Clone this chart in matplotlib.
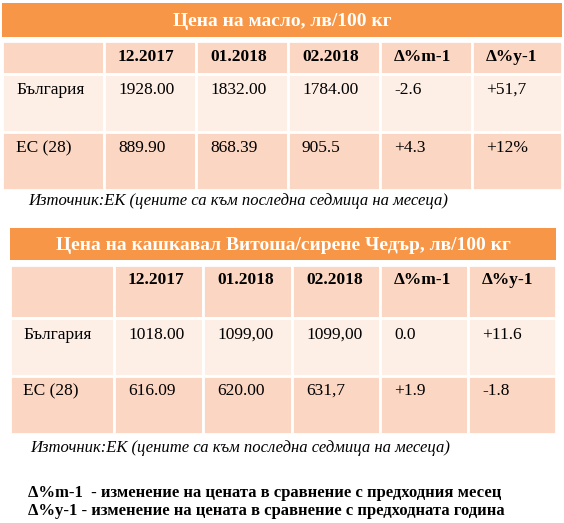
import matplotlib
matplotlib.use("Agg")
import matplotlib.pyplot as plt
from matplotlib.patches import Rectangle

plt.rcParams['font.family'] = ['Liberation Serif', 'DejaVu Serif']

columns = ["", "12.2017", "01.2018", "02.2018", "Δ%m-1", "Δ%y-1"]
title1 = "Цена на масло, лв/100 кг"
rows1 = [["България", "1928.00", "1832.00", "1784.00", "-2.6", "+51,7"],
         ["ЕС (28)", "889.90", "868.39", "905.5", "+4.3", "+12%"]]
title2 = "Цена на кашкавал Витоша/сирене Чедър, лв/100 кг"
rows2 = [["България", "1018.00", "1099,00", "1099,00", "0.0", "+11.6"],
         ["ЕС (28)", "616.09", "620.00", "631,7", "+1.9", "-1.8"]]
source = "Източник:ЕК (цените са към последна седмица на месеца)"
notes = ["Δ%m-1  - изменение на цената в сравнение с предходния месец",
         "Δ%y-1 - изменение на цената в сравнение с предходната година"]

ORANGE = "#F79646"
PEACH = "#FBD6C2"
LIGHT = "#FDEEE6"

W, H = 564, 523
fig = plt.figure(figsize=(W/100, H/100), dpi=100)
ax = fig.add_axes([0, 0, 1, 1])
ax.set_xlim(0, W)
ax.set_ylim(H, 0)
ax.axis('off')

def table(title, rows, x0, x1, colx, ty, rowy, textpad, firstpad, textpad_y, src_x, src_y):
    ax.add_patch(Rectangle((x0, ty[0]), x1-x0, ty[1]-ty[0], color=ORANGE, lw=0))
    ax.text((x0+x1)/2, (ty[0]+ty[1])/2 + 1, title, ha='center', va='center',
            color='white', fontsize=14, fontweight='bold')
    edges = [x0] + colx + [x1]
    all_rows = [columns] + rows
    fills = [PEACH, LIGHT, PEACH]
    for r, (ya, yb) in enumerate(rowy):
        for c in range(6):
            ax.add_patch(Rectangle((edges[c], ya), edges[c+1]-edges[c], yb-ya,
                                   facecolor=fills[r], edgecolor='white', lw=2))
            ax.text(edges[c] + (firstpad if c == 0 else textpad), ya + textpad_y[r],
                    all_rows[r][c], ha='left', va='center', fontsize=12.5,
                    fontweight='bold' if r == 0 else 'normal', color='black')
    ax.text(src_x, src_y, source, fontsize=12, style='italic', va='center')

table(title1, rows1, 2, 562, [104, 196, 288, 380, 472], (3, 37),
      [(41, 74), (74, 132), (132, 190)], 14, 14, [16, 16, 16], 28, 201)
table(title2, rows2, 10, 556, [114, 203, 292, 380, 468], (228, 260),
      [(265, 318), (318, 376), (376, 434)], 14, 13, [15, 17, 15], 30, 448)

for i, n in enumerate(notes):
    ax.text(28, 493 + 18*i, n, fontsize=12, fontweight='bold', va='center')

fig.savefig("out.png", dpi=100)
